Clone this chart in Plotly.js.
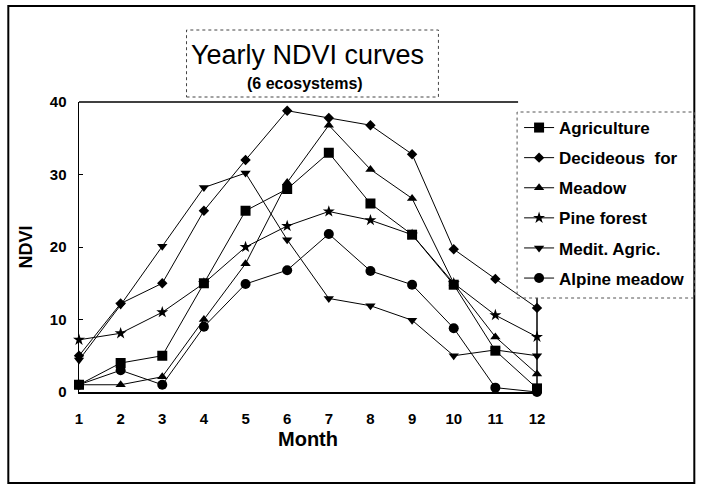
<!DOCTYPE html>
<html>
<head>
<meta charset="utf-8">
<script src="https://cdn.plot.ly/plotly-3.0.1.min.js"></script>
<style>html,body{margin:0;padding:0;background:#fff;}#chart{width:702px;height:484px;}</style>
</head>
<body>
<div id="chart"></div>
<script>
const months = [1, 2, 3, 4, 5, 6, 7, 8, 9, 10, 11, 12];
const seriesNames = ["Agriculture", "Decideous\u00a0 for", "Meadow", "Pine forest", "Medit. Agric.", "Alpine meadow"];
const agriculture = [1, 4, 5, 15, 25, 28, 33, 26, 21.7, 14.8, 5.7, 0.5];
const decideous = [5, 12.2, 15, 25, 32, 38.8, 37.8, 36.8, 32.8, 19.7, 15.6, 11.6];
const meadow = [1, 1, 2.1, 10, 17.7, 28.9, 36.8, 30.7, 26.7, 15, 7.6, 2.5];
const pineForest = [7.2, 8.1, 11, 15, 20, 22.9, 24.9, 23.7, 21.7, 15, 10.6, 7.6];
const meditAgric = [4.4, 12, 20.1, 28.2, 30.2, 21, 12.9, 11.9, 9.9, 5, 5.8, 5];
const alpineMeadow = [1, 3, 1, 9, 14.9, 16.8, 21.8, 16.7, 14.8, 8.8, 0.6, 0];
const yTicks = [0, 10, 20, 30, 40];
const xTicks = months;

const seriesValues = [agriculture, decideous, meadow, pineForest, meditAgric, alpineMeadow];
const symbols = ["square", "diamond", "triangle-up", "star", "triangle-down", "circle"];
const sizes = [10, 8, 9, 9, 9, 10];

const W = 702, H = 484;
const L = 79, R = 539, T = 102, B = 392;
const px = v => (v - L) / (R - L);
const py = v => (B - v) / (B - T);

const FONT = "Arial, 'Liberation Sans', sans-serif";

const traces = seriesValues.map((vals, i) => ({
  x: months, y: vals, name: seriesNames[i], type: "scatter", mode: "lines+markers",
  legendgroup: "g" + i,
  line: {color: "#000", width: 1},
  marker: {symbol: symbols[i], size: sizes[i], color: "#000", line: {width: 0}},
  cliponaxis: false
}));

const shapes = [
  {type: "rect", xref: "paper", yref: "paper", x0: px(8), x1: px(697), y0: py(483), y1: py(6), line: {color: "#000", width: 2}},
  {type: "line", xref: "paper", yref: "paper", x0: px(79), x1: px(520), y0: py(102), y1: py(102), line: {color: "#000", width: 1.5}},
  {type: "line", xref: "paper", yref: "paper", x0: px(539), x1: px(539), y0: py(298), y1: py(392), line: {color: "#000", width: 1.5}},
  {type: "rect", xref: "paper", yref: "paper", x0: px(187), x1: px(440), y0: py(97), y1: py(30), line: {color: "#444", width: 1, dash: "dot"}, fillcolor: "#fff"},
  {type: "rect", xref: "paper", yref: "paper", x0: px(519), x1: px(697), y0: py(298), y1: py(112), line: {color: "#555", width: 1, dash: "dot"}, fillcolor: "rgba(0,0,0,0)"}
];

const annotations = [
  {text: "Yearly NDVI curves", xref: "paper", yref: "paper", x: px(308), y: py(55), showarrow: false, xanchor: "center", yanchor: "middle", font: {family: FONT, size: 27, color: "#000"}},
  {text: "<b>(6 ecosystems)</b>", xref: "paper", yref: "paper", x: px(306), y: py(83), showarrow: false, xanchor: "center", yanchor: "middle", font: {family: FONT, size: 16, color: "#000"}}
];

const layout = {
  width: W, height: H,
  margin: {l: L, r: W - R, t: T, b: H - B, pad: 0},
  paper_bgcolor: "#fff", plot_bgcolor: "#fff",
  showlegend: true,
  legend: {
    x: px(521), y: py(110), xanchor: "left", yanchor: "top",
    bgcolor: "rgba(0,0,0,0)", borderwidth: 0,
    font: {family: FONT, size: 17, color: "#000", weight: "bold"},
    itemwidth: 30, tracegroupgap: 5, traceorder: "grouped"
  },
  xaxis: {
    range: [1, 12], tickvals: xTicks, ticktext: xTicks.map(String),
    showgrid: false, zeroline: false, showline: true, linecolor: "#000", linewidth: 1.5,
    ticks: "", ticklabelstandoff: 12,
    tickfont: {family: FONT, size: 15, color: "#000", weight: "bold"},
    title: {text: "Month", font: {family: FONT, size: 20, color: "#000", weight: "bold"}, standoff: 6},
    automargin: false, fixedrange: true
  },
  yaxis: {
    range: [0, 40], tickvals: yTicks, ticktext: yTicks.map(String),
    showgrid: false, zeroline: false, showline: true, linecolor: "#000", linewidth: 1.5,
    ticks: "inside", ticklen: 4, tickcolor: "#000", ticklabelstandoff: 8,
    tickfont: {family: FONT, size: 15, color: "#000", weight: "bold"},
    title: {text: "NDVI", font: {family: FONT, size: 18, color: "#000", weight: "bold"}, standoff: 12},
    automargin: false, fixedrange: true
  },
  shapes: shapes,
  annotations: annotations
};

Plotly.newPlot("chart", traces, layout, {displayModeBar: false, staticPlot: true});
</script>
</body>
</html>
